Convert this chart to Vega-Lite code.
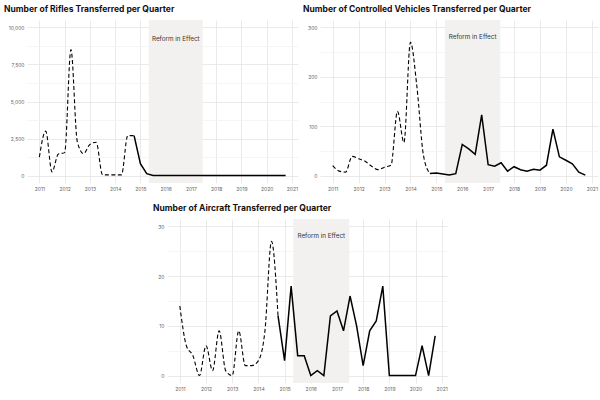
{
  "$schema": "https://vega.github.io/schema/vega-lite/v6.json",
  "background": "white",
  "padding": {"left": 4, "top": 4, "right": 2, "bottom": 4},
  "config": {
    "view": {"stroke": null},
    "font": "Inter",
    "title": {"anchor": "start", "frame": "group", "fontSize": 8.5, "fontWeight": "bold", "font": "Inter", "color": "#111111", "offset": 7},
    "axis": {"domain": false, "ticks": false, "labelFontSize": 5, "labelColor": "#666666", "labelFont": "Inter", "gridColor": "#e4e4e4", "gridWidth": 0.8, "labelPadding": 3, "labelOverlap": false, "tickCount": 40}
  },
  "datasets": {
    "reform": [{"start": 2015.33, "end": 2017.47, "mid": 2016.4, "label": "Reform in Effect"}],
    "q": [
      {"s": "Rifles", "d": 2011.0, "v": 1250, "p": "pre"},
      {"s": "Rifles", "d": 2011.25, "v": 3000, "p": "pre"},
      {"s": "Rifles", "d": 2011.5, "v": 250, "p": "pre"},
      {"s": "Rifles", "d": 2011.75, "v": 1450, "p": "pre"},
      {"s": "Rifles", "d": 2012.0, "v": 1550, "p": "pre"},
      {"s": "Rifles", "d": 2012.25, "v": 8500, "p": "pre"},
      {"s": "Rifles", "d": 2012.5, "v": 2300, "p": "pre"},
      {"s": "Rifles", "d": 2012.75, "v": 1480, "p": "pre"},
      {"s": "Rifles", "d": 2013.0, "v": 2100, "p": "pre"},
      {"s": "Rifles", "d": 2013.25, "v": 2250, "p": "pre"},
      {"s": "Rifles", "d": 2013.5, "v": 50, "p": "pre"},
      {"s": "Rifles", "d": 2013.75, "v": 50, "p": "pre"},
      {"s": "Rifles", "d": 2014.0, "v": 50, "p": "pre"},
      {"s": "Rifles", "d": 2014.25, "v": 50, "p": "pre"},
      {"s": "Rifles", "d": 2014.5, "v": 2700, "p": "pre"},
      {"s": "Rifles", "d": 2014.75, "v": 2700, "p": "pre"},
      {"s": "Rifles", "d": 2014.75, "v": 2700, "p": "post"},
      {"s": "Rifles", "d": 2015.0, "v": 800, "p": "post"},
      {"s": "Rifles", "d": 2015.25, "v": 130, "p": "post"},
      {"s": "Rifles", "d": 2015.5, "v": 10, "p": "post"},
      {"s": "Rifles", "d": 2015.75, "v": 0, "p": "post"},
      {"s": "Rifles", "d": 2016.0, "v": 0, "p": "post"},
      {"s": "Rifles", "d": 2016.25, "v": 0, "p": "post"},
      {"s": "Rifles", "d": 2016.5, "v": 0, "p": "post"},
      {"s": "Rifles", "d": 2016.75, "v": 0, "p": "post"},
      {"s": "Rifles", "d": 2017.0, "v": 0, "p": "post"},
      {"s": "Rifles", "d": 2017.25, "v": 0, "p": "post"},
      {"s": "Rifles", "d": 2017.5, "v": 0, "p": "post"},
      {"s": "Rifles", "d": 2017.75, "v": 0, "p": "post"},
      {"s": "Rifles", "d": 2018.0, "v": 0, "p": "post"},
      {"s": "Rifles", "d": 2018.25, "v": 0, "p": "post"},
      {"s": "Rifles", "d": 2018.5, "v": 0, "p": "post"},
      {"s": "Rifles", "d": 2018.75, "v": 0, "p": "post"},
      {"s": "Rifles", "d": 2019.0, "v": 0, "p": "post"},
      {"s": "Rifles", "d": 2019.25, "v": 0, "p": "post"},
      {"s": "Rifles", "d": 2019.5, "v": 0, "p": "post"},
      {"s": "Rifles", "d": 2019.75, "v": 0, "p": "post"},
      {"s": "Rifles", "d": 2020.0, "v": 0, "p": "post"},
      {"s": "Rifles", "d": 2020.25, "v": 0, "p": "post"},
      {"s": "Rifles", "d": 2020.5, "v": 0, "p": "post"},
      {"s": "Rifles", "d": 2020.75, "v": 0, "p": "post"},

      {"s": "Vehicles", "d": 2011.0, "v": 20, "p": "pre"},
      {"s": "Vehicles", "d": 2011.25, "v": 9, "p": "pre"},
      {"s": "Vehicles", "d": 2011.5, "v": 7, "p": "pre"},
      {"s": "Vehicles", "d": 2011.75, "v": 39, "p": "pre"},
      {"s": "Vehicles", "d": 2012.0, "v": 34, "p": "pre"},
      {"s": "Vehicles", "d": 2012.25, "v": 29, "p": "pre"},
      {"s": "Vehicles", "d": 2012.5, "v": 19, "p": "pre"},
      {"s": "Vehicles", "d": 2012.75, "v": 12, "p": "pre"},
      {"s": "Vehicles", "d": 2013.0, "v": 17, "p": "pre"},
      {"s": "Vehicles", "d": 2013.25, "v": 21, "p": "pre"},
      {"s": "Vehicles", "d": 2013.5, "v": 130, "p": "pre"},
      {"s": "Vehicles", "d": 2013.75, "v": 67, "p": "pre"},
      {"s": "Vehicles", "d": 2014.0, "v": 270, "p": "pre"},
      {"s": "Vehicles", "d": 2014.25, "v": 180, "p": "pre"},
      {"s": "Vehicles", "d": 2014.5, "v": 42, "p": "pre"},
      {"s": "Vehicles", "d": 2014.75, "v": 4, "p": "pre"},
      {"s": "Vehicles", "d": 2014.75, "v": 4, "p": "post"},
      {"s": "Vehicles", "d": 2015.0, "v": 5, "p": "post"},
      {"s": "Vehicles", "d": 2015.25, "v": 3, "p": "post"},
      {"s": "Vehicles", "d": 2015.5, "v": 1, "p": "post"},
      {"s": "Vehicles", "d": 2015.75, "v": 4, "p": "post"},
      {"s": "Vehicles", "d": 2016.0, "v": 63, "p": "post"},
      {"s": "Vehicles", "d": 2016.25, "v": 54, "p": "post"},
      {"s": "Vehicles", "d": 2016.5, "v": 43, "p": "post"},
      {"s": "Vehicles", "d": 2016.75, "v": 123, "p": "post"},
      {"s": "Vehicles", "d": 2017.0, "v": 22, "p": "post"},
      {"s": "Vehicles", "d": 2017.25, "v": 19, "p": "post"},
      {"s": "Vehicles", "d": 2017.5, "v": 26, "p": "post"},
      {"s": "Vehicles", "d": 2017.75, "v": 9, "p": "post"},
      {"s": "Vehicles", "d": 2018.0, "v": 18, "p": "post"},
      {"s": "Vehicles", "d": 2018.25, "v": 12, "p": "post"},
      {"s": "Vehicles", "d": 2018.5, "v": 9, "p": "post"},
      {"s": "Vehicles", "d": 2018.75, "v": 13, "p": "post"},
      {"s": "Vehicles", "d": 2019.0, "v": 11, "p": "post"},
      {"s": "Vehicles", "d": 2019.25, "v": 21, "p": "post"},
      {"s": "Vehicles", "d": 2019.5, "v": 94, "p": "post"},
      {"s": "Vehicles", "d": 2019.75, "v": 38, "p": "post"},
      {"s": "Vehicles", "d": 2020.0, "v": 31, "p": "post"},
      {"s": "Vehicles", "d": 2020.25, "v": 24, "p": "post"},
      {"s": "Vehicles", "d": 2020.5, "v": 7, "p": "post"},
      {"s": "Vehicles", "d": 2020.75, "v": 1, "p": "post"},

      {"s": "Aircraft", "d": 2011.0, "v": 14, "p": "pre"},
      {"s": "Aircraft", "d": 2011.25, "v": 6, "p": "pre"},
      {"s": "Aircraft", "d": 2011.5, "v": 4, "p": "pre"},
      {"s": "Aircraft", "d": 2011.75, "v": 0, "p": "pre"},
      {"s": "Aircraft", "d": 2012.0, "v": 6, "p": "pre"},
      {"s": "Aircraft", "d": 2012.25, "v": 1, "p": "pre"},
      {"s": "Aircraft", "d": 2012.5, "v": 9, "p": "pre"},
      {"s": "Aircraft", "d": 2012.75, "v": 1, "p": "pre"},
      {"s": "Aircraft", "d": 2013.0, "v": 0, "p": "pre"},
      {"s": "Aircraft", "d": 2013.25, "v": 9, "p": "pre"},
      {"s": "Aircraft", "d": 2013.5, "v": 2, "p": "pre"},
      {"s": "Aircraft", "d": 2013.75, "v": 2, "p": "pre"},
      {"s": "Aircraft", "d": 2014.0, "v": 3, "p": "pre"},
      {"s": "Aircraft", "d": 2014.25, "v": 9, "p": "pre"},
      {"s": "Aircraft", "d": 2014.5, "v": 27, "p": "pre"},
      {"s": "Aircraft", "d": 2014.75, "v": 12, "p": "pre"},
      {"s": "Aircraft", "d": 2014.75, "v": 12, "p": "post"},
      {"s": "Aircraft", "d": 2015.0, "v": 3, "p": "post"},
      {"s": "Aircraft", "d": 2015.25, "v": 18, "p": "post"},
      {"s": "Aircraft", "d": 2015.5, "v": 4, "p": "post"},
      {"s": "Aircraft", "d": 2015.75, "v": 4, "p": "post"},
      {"s": "Aircraft", "d": 2016.0, "v": 0, "p": "post"},
      {"s": "Aircraft", "d": 2016.25, "v": 1, "p": "post"},
      {"s": "Aircraft", "d": 2016.5, "v": 0, "p": "post"},
      {"s": "Aircraft", "d": 2016.75, "v": 12, "p": "post"},
      {"s": "Aircraft", "d": 2017.0, "v": 13, "p": "post"},
      {"s": "Aircraft", "d": 2017.25, "v": 9, "p": "post"},
      {"s": "Aircraft", "d": 2017.5, "v": 16, "p": "post"},
      {"s": "Aircraft", "d": 2017.75, "v": 10, "p": "post"},
      {"s": "Aircraft", "d": 2018.0, "v": 2, "p": "post"},
      {"s": "Aircraft", "d": 2018.25, "v": 9, "p": "post"},
      {"s": "Aircraft", "d": 2018.5, "v": 11, "p": "post"},
      {"s": "Aircraft", "d": 2018.75, "v": 18, "p": "post"},
      {"s": "Aircraft", "d": 2019.0, "v": 0, "p": "post"},
      {"s": "Aircraft", "d": 2019.25, "v": 0, "p": "post"},
      {"s": "Aircraft", "d": 2019.5, "v": 0, "p": "post"},
      {"s": "Aircraft", "d": 2019.75, "v": 0, "p": "post"},
      {"s": "Aircraft", "d": 2020.0, "v": 0, "p": "post"},
      {"s": "Aircraft", "d": 2020.25, "v": 6, "p": "post"},
      {"s": "Aircraft", "d": 2020.5, "v": 0, "p": "post"},
      {"s": "Aircraft", "d": 2020.75, "v": 8, "p": "post"}
    ]
  },
  "spacing": 12,
  "center": true,
  "vconcat": [
    {
      "spacing": 5,
      "hconcat": [
        {
          "width": 271, "height": 163,
          "title": {"text": "Number of Rifles Transferred per Quarter", "dx": -23},
          "layer": [
            {"data": {"name": "reform"}, "mark": {"type": "rect", "color": "#f3f1ef"},
             "encoding": {"x": {"field": "start", "type": "quantitative", "title": null, "scale": {"domain": [2010.51, 2021.24], "nice": false, "zero": false}, "axis": {"tickCount": 40, "values": [2011, 2012, 2013, 2014, 2015, 2016, 2017, 2018, 2019, 2020, 2021], "format": "d"}}, "x2": {"field": "end"}}},
            {"data": {"name": "q"}, "transform": [{"filter": "datum.s == 'Rifles' && datum.p == 'pre'"}],
             "mark": {"type": "line", "color": "#000000", "strokeDash": [4, 2.5], "strokeWidth": 1.1, "interpolate": "monotone"},
             "encoding": {"x": {"field": "d", "type": "quantitative", "title": null, "scale": {"domain": [2010.51, 2021.24], "nice": false, "zero": false}}, "y": {"field": "v", "type": "quantitative", "title": null, "scale": {"domain": [-500, 10500], "nice": false, "zero": false}, "axis": {"tickCount": 40, "values": [0, 1250, 2500, 3750, 5000, 6250, 7500, 8750, 10000], "labelExpr": "datum.value % 2500 == 0 ? format(datum.value, ',') : ''", "gridColor": {"condition": {"test": "datum.value % 2500 != 0", "value": "#f2f2f2"}, "value": "#e4e4e4"}}}}},
            {"data": {"name": "q"}, "transform": [{"filter": "datum.s == 'Rifles' && datum.p == 'post'"}],
             "mark": {"type": "line", "color": "#000000", "strokeWidth": 1.5},
             "encoding": {"x": {"field": "d", "type": "quantitative", "title": null, "scale": {"domain": [2010.51, 2021.24], "nice": false, "zero": false}}, "y": {"field": "v", "type": "quantitative", "title": null, "scale": {"domain": [-500, 10500], "nice": false, "zero": false}}}},
            {"data": {"name": "reform"}, "mark": {"type": "text", "fontSize": 6.3, "color": "#333333", "font": "Inter", "baseline": "middle"},
             "encoding": {"x": {"field": "mid", "type": "quantitative", "title": null, "scale": {"domain": [2010.51, 2021.24], "nice": false, "zero": false}}, "y": {"datum": 9200, "type": "quantitative", "title": null, "scale": {"domain": [-500, 10500], "nice": false, "zero": false}}, "text": {"field": "label"}}}
          ]
        },
        {
          "width": 278, "height": 163,
          "title": {"text": "Number of Controlled Vehicles Transferred per Quarter", "dx": -17},
          "layer": [
            {"data": {"name": "reform"}, "mark": {"type": "rect", "color": "#f3f1ef"},
             "encoding": {"x": {"field": "start", "type": "quantitative", "title": null, "scale": {"domain": [2010.51, 2021.24], "nice": false, "zero": false}, "axis": {"tickCount": 40, "values": [2011, 2012, 2013, 2014, 2015, 2016, 2017, 2018, 2019, 2020, 2021], "format": "d"}}, "x2": {"field": "end"}}},
            {"data": {"name": "q"}, "transform": [{"filter": "datum.s == 'Vehicles' && datum.p == 'pre'"}],
             "mark": {"type": "line", "color": "#000000", "strokeDash": [4, 2.5], "strokeWidth": 1.1, "interpolate": "monotone"},
             "encoding": {"x": {"field": "d", "type": "quantitative", "title": null, "scale": {"domain": [2010.51, 2021.24], "nice": false, "zero": false}}, "y": {"field": "v", "type": "quantitative", "title": null, "scale": {"domain": [-15, 315], "nice": false, "zero": false}, "axis": {"tickCount": 40, "values": [0, 50, 100, 150, 200, 250, 300], "labelExpr": "datum.value % 100 == 0 ? format(datum.value, ',') : ''", "gridColor": {"condition": {"test": "datum.value % 100 != 0", "value": "#f2f2f2"}, "value": "#e4e4e4"}}}}},
            {"data": {"name": "q"}, "transform": [{"filter": "datum.s == 'Vehicles' && datum.p == 'post'"}],
             "mark": {"type": "line", "color": "#000000", "strokeWidth": 1.5},
             "encoding": {"x": {"field": "d", "type": "quantitative", "title": null, "scale": {"domain": [2010.51, 2021.24], "nice": false, "zero": false}}, "y": {"field": "v", "type": "quantitative", "title": null, "scale": {"domain": [-15, 315], "nice": false, "zero": false}}}},
            {"data": {"name": "reform"}, "mark": {"type": "text", "fontSize": 6.3, "color": "#333333", "font": "Inter", "baseline": "middle"},
             "encoding": {"x": {"field": "mid", "type": "quantitative", "title": null, "scale": {"domain": [2010.51, 2021.24], "nice": false, "zero": false}}, "y": {"datum": 280, "type": "quantitative", "title": null, "scale": {"domain": [-15, 315], "nice": false, "zero": false}}, "text": {"field": "label"}}}
          ]
        }
      ]
    },
    {
      "width": 281, "height": 164,
      "title": {"text": "Number of Aircraft Transferred per Quarter", "dx": -14},
      "resolve": {"axis": {"y": "independent"}},
      "layer": [
        {"data": {"name": "reform"}, "mark": {"type": "rect", "color": "#f3f1ef"},
         "encoding": {"x": {"field": "start", "type": "quantitative", "title": null, "scale": {"domain": [2010.51, 2021.24], "nice": false, "zero": false}, "axis": {"tickCount": 40, "values": [2011, 2012, 2013, 2014, 2015, 2016, 2017, 2018, 2019, 2020, 2021], "format": "d"}}, "x2": {"field": "end"}}},
        {"data": {"name": "q"}, "transform": [{"filter": "datum.s == 'Aircraft' && datum.p == 'pre'"}],
         "mark": {"type": "line", "color": "#000000", "strokeDash": [4, 2.5], "strokeWidth": 1.1, "interpolate": "monotone"},
         "encoding": {"x": {"field": "d", "type": "quantitative", "title": null, "scale": {"domain": [2010.51, 2021.24], "nice": false, "zero": false}}, "y": {"field": "v", "type": "quantitative", "title": null, "scale": {"domain": [-1.5, 31.5], "nice": false, "zero": false}, "axis": {"orient": "left", "tickCount": 40, "values": [0, 5, 10, 15, 20, 25, 30], "labelExpr": "datum.value % 10 == 0 ? format(datum.value, ',') : ''", "gridColor": {"condition": {"test": "datum.value % 10 != 0", "value": "#f2f2f2"}, "value": "#e4e4e4"}}}}},
        {"data": {"name": "q"}, "transform": [{"filter": "datum.s == 'Aircraft' && datum.p == 'post'"}],
         "mark": {"type": "line", "color": "#000000", "strokeWidth": 1.5},
         "encoding": {"x": {"field": "d", "type": "quantitative", "title": null, "scale": {"domain": [2010.51, 2021.24], "nice": false, "zero": false}}, "y": {"field": "v", "type": "quantitative", "title": null, "scale": {"domain": [-1.5, 31.5], "nice": false, "zero": false}, "axis": null}}},
        {"data": {"name": "reform"}, "mark": {"type": "text", "fontSize": 6.3, "color": "#333333", "font": "Inter", "baseline": "middle"},
         "encoding": {"x": {"field": "mid", "type": "quantitative", "title": null, "scale": {"domain": [2010.51, 2021.24], "nice": false, "zero": false}}, "y": {"datum": 28, "type": "quantitative", "title": null, "scale": {"domain": [-1.5, 31.5], "nice": false, "zero": false}, "axis": {"orient": "right", "labels": false, "grid": false, "values": [], "minExtent": 10, "maxExtent": 10}}, "text": {"field": "label"}}}
      ]
    }
  ]
}
